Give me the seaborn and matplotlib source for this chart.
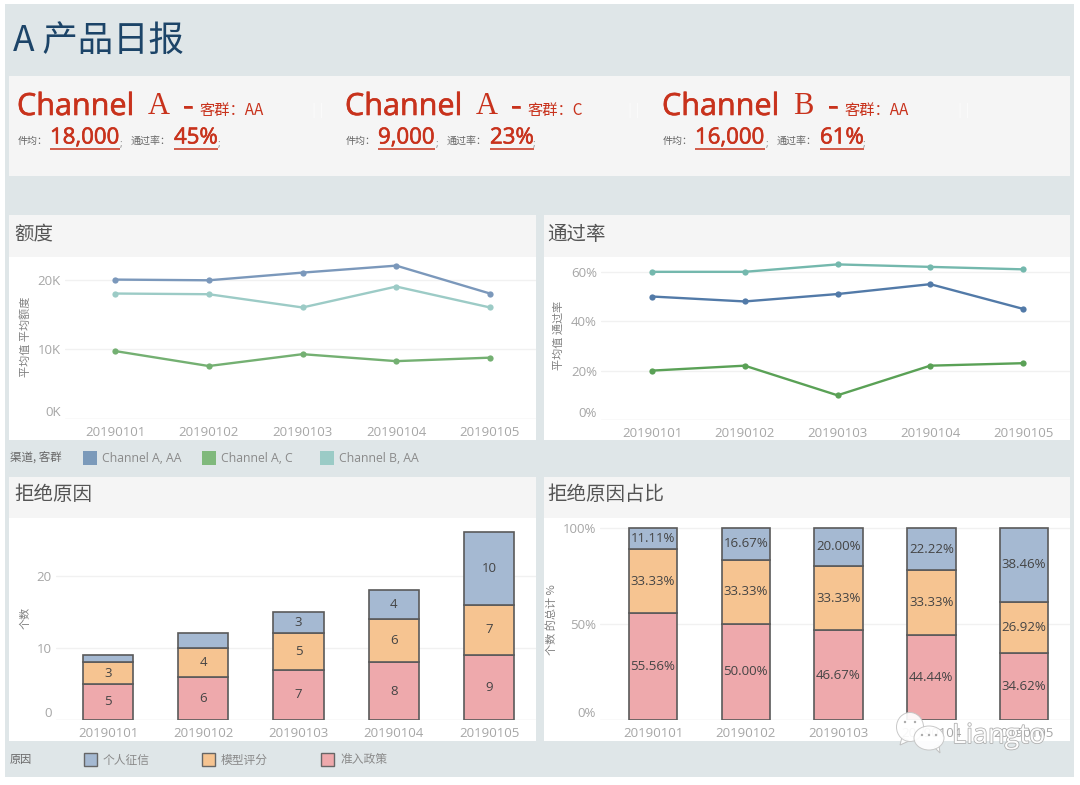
"""A product daily report dashboard."""

import matplotlib

matplotlib.use("Agg")
import matplotlib.patheffects as pe
import matplotlib.pyplot as plt
import numpy as np
import pandas as pd
import seaborn as sns
from matplotlib.patches import Ellipse, Polygon, Rectangle
from matplotlib.transforms import ScaledTranslation

# data
days = ["20190101", "20190102", "20190103", "20190104", "20190105"]
series_names = ["Channel A, AA", "Channel A, C", "Channel B, AA"]

amount_a_aa = [20000, 19900, 21000, 22000, 18000]
amount_a_c = [9750, 7600, 9300, 8300, 8800]
amount_b_aa = [18000, 17900, 16000, 19000, 16000]

rate_a_aa = [50, 48, 51, 55, 45]
rate_a_c = [20, 22, 10, 22, 23]
rate_b_aa = [60, 60, 63, 62, 61]

reason_names = ["准入政策", "模型评分", "个人征信"]
count_policy = [5, 6, 7, 8, 9]
count_model = [3, 4, 5, 6, 7]
count_credit = [1, 2, 3, 4, 10]

share_policy = [55.56, 50.00, 46.67, 44.44, 34.62]
share_model = [33.33, 33.33, 33.33, 33.33, 26.92]
share_credit = [11.11, 16.67, 20.00, 22.22, 38.46]

card_channels = ["Channel", "Channel", "Channel"]
card_letters = ["A", "A", "B"]
card_groups = ["AA", "C", "AA"]
card_amounts = ["18,000", "9,000", "16,000"]
card_rates = ["45%", "23%", "61%"]

# colours
PAGE = "#dfe6e8"
CARD = "#f5f5f5"
RED = "#c8321c"
LINE_LEFT = ["#7b98bb", "#74b072", "#9ccbc6"]
LINE_RIGHT = ["#527aa8", "#5aa156", "#74b8ad"]
LEGEND_LINE = ["#7b9aba", "#80b97c", "#9bcbc6"]
BAR_COLORS = ["#eea9ac", "#f6c491", "#a5b9d2"]
BAR_EDGE = "#5a5a5a"
TICK = "#a6a6a6"
SANS = ["Open Sans", "Noto Sans CJK SC", "DejaVu Sans"]
CJK = ["Noto Sans CJK SC", "DejaVu Sans"]

W, H = 1080, 785

sns.set_theme(style="white")
plt.rcParams["font.family"] = SANS
plt.rcParams["axes.unicode_minus"] = False

fig = plt.figure(figsize=(W / 100, H / 100), dpi=100, facecolor="white")

# page-sized axes in pixel coordinates for cards, headings and legends
bg = fig.add_axes([0, 0, 1, 1], zorder=0)
bg.set_xlim(0, W)
bg.set_ylim(H, 0)
bg.axis("off")

thicker = [pe.withStroke(linewidth=0.45, foreground=RED)]


def box(x0, y0, x1, y1, color, **kw):
    bg.add_patch(Rectangle((x0, y0), x1 - x0, y1 - y0, facecolor=color, linewidth=0, **kw))


def label(x, y, s, size, color="#555555", family=CJK, **kw):
    kw.setdefault("va", "center")
    return bg.text(x, y, s, fontsize=size, color=color, family=family, **kw)


def underlined(x, y, s, size):
    t = label(x, y, s, size, color=RED, family=SANS, path_effects=thicker)
    ext = t.get_window_extent(fig.canvas.get_renderer())
    bg.plot([ext.x0, ext.x1], [149, 149], color=RED, lw=1.1, solid_capstyle="butt")


def panel_axes(x0, y0, x1, y1):
    return fig.add_axes([x0 / W, 1 - y1 / H, (x1 - x0) / W, (y1 - y0) / H], zorder=2, facecolor="none")


def style_axes(ax, first_x, step, ylabel, ylabel_x, ylabel_y):
    x0, x1 = ax.get_position().x0 * W, ax.get_position().x1 * W
    ax.set_xlim((x0 - first_x) / step, (x1 - first_x) / step)
    sns.despine(ax=ax, left=True, bottom=True, top=True, right=True)
    ax.grid(axis="y", color="#f1f1f1", lw=1)
    ax.set_axisbelow(True)
    ax.axhline(0, color="#ececec", lw=1, zorder=0)
    ax.set_xlabel("")
    ax.set_ylabel("")
    ax.tick_params(axis="both", length=0, labelcolor=TICK, labelsize=9.5)
    ax.tick_params(axis="x", pad=5)
    ax.tick_params(axis="y", pad=3)
    # the lowest value label sits above its gridline
    low = ax.get_yticklabels()[0]
    low.set_transform(low.get_transform() + ScaledTranslation(0, 8 / 100, fig.dpi_scale_trans))
    label(ylabel_x, ylabel_y, ylabel, 8, color="#808080", rotation=90, ha="center")


# page and cards
box(5, 4, 1074, 777, PAGE)
box(9, 76, 1070, 176, CARD)
for x0, x1, y0, y1, y2 in [
    (9, 536, 215, 257, 440),
    (544, 1070, 215, 257, 440),
    (9, 536, 477, 518, 741),
    (544, 1070, 477, 518, 741),
]:
    box(x0, y0, x1, y1, CARD)
    box(x0, y1, x1, y2, "white")

label(13, 41, "A 产品日报", 25.5, color="#1c4468", family=CJK)

# KPI cards
card_x = [18, 346, 663]
for i, x in enumerate(card_x):
    label(x - 1, 107, card_channels[i], 22, color=RED, family=SANS, path_effects=thicker)
    label(x + 130, 107, card_letters[i], 22, color=RED, family=["Liberation Serif"])
    label(x + 165, 107, "-", 22, color=RED, family=SANS, path_effects=thicker)
    label(x + 182, 110, f"客群：{card_groups[i]}", 11, color=RED)
    label(x, 141, "件均：", 7.2, color="#666666")
    underlined(x + 32, 138, card_amounts[i], 16)

for x in [121, 437, 767]:
    label(x - 1, 144, ";", 7, color="#888888", family=SANS)
for x in [131, 447, 777]:
    label(x, 141, "通过率：", 7.2, color="#666666")
for x2, s in zip([174, 490, 820], card_rates):
    underlined(x2, 138, s, 16)
for x in [218, 533, 863]:
    label(x, 144, ";", 7, color="#888888", family=SANS)
for x in [318, 634, 964]:
    label(x, 110, "||", 11, color="#fbfbfb", family=SANS, ha="center")

# panel headings
label(14, 234, "额度", 14, color="#555555")
label(547, 234, "通过率", 14, color="#555555")
label(14, 495, "拒绝原因", 14, color="#555555")
label(547, 495, "拒绝原因占比", 14, color="#555555")

# line charts
amount_df = pd.DataFrame(
    {
        "day": days * 3,
        "series": np.repeat(series_names, len(days)),
        "value": amount_a_aa + amount_a_c + amount_b_aa,
    }
)
rate_df = pd.DataFrame(
    {
        "day": days * 3,
        "series": np.repeat(series_names, len(days)),
        "value": rate_a_aa + rate_a_c + rate_b_aa,
    }
)

ax1 = panel_axes(65, 257, 536, 419)
sns.lineplot(
    data=amount_df, x="day", y="value", hue="series", palette=LINE_LEFT, marker="o",
    markersize=4.5, markeredgewidth=0, linewidth=1.7, legend=False, ax=ax1,
)
ax1.set_ylim(0, 23240)
ax1.set_yticks([0, 10000, 20000], ["0K", "10K", "20K"])
style_axes(ax1, 115, 93.75, "平均值 平均额度", 26, 337)

ax2 = panel_axes(601, 257, 1070, 420)
sns.lineplot(
    data=rate_df, x="day", y="value", hue="series", palette=LINE_RIGHT, marker="o",
    markersize=4.5, markeredgewidth=0, linewidth=1.7, legend=False, ax=ax2,
)
ax2.set_ylim(0, 66)
ax2.set_yticks([0, 20, 40, 60], ["0%", "20%", "40%", "60%"])
style_axes(ax2, 652, 92.75, "平均值 通过率", 559, 335)


# stacked bars
def stacked(ax, layers, width, texts):
    bottom = np.zeros(len(days))
    for values, color, words in zip(layers, BAR_COLORS, texts):
        sns.barplot(
            x=days, y=values, bottom=bottom, color=color, saturation=1, width=width,
            edgecolor=BAR_EDGE, linewidth=1.2, ax=ax,
        )
        ax.bar_label(ax.containers[-1], labels=words, label_type="center", fontsize=9.5, color="#444444")
        bottom = bottom + np.array(values)


ax3 = panel_axes(56, 518, 536, 720)
count_layers = [count_policy, count_model, count_credit]
stacked(
    ax3, count_layers, 50 / 95,
    [[str(v) if v >= 3 else "" for v in layer] for layer in count_layers],
)
ax3.set_ylim(0, 28)
ax3.set_yticks([0, 10, 20], ["0", "10", "20"])
style_axes(ax3, 108, 95.25, "个数", 25, 618)

ax4 = panel_axes(600, 518, 1070, 720)
share_layers = [share_policy, share_model, share_credit]
stacked(
    ax4, share_layers, 48.5 / 92.75,
    [[f"{v:.2f}%" for v in layer] for layer in share_layers],
)
ax4.set_ylim(0, 105)
ax4.set_yticks([0, 50, 100], ["0%", "50%", "100%"])
style_axes(ax4, 653, 92.75, "个数 的总计 %", 552, 620)

# legends
label(10, 458, "渠道, 客群", 8.3, color="#666666")
for x, name, color in zip([83, 202, 320], series_names, LEGEND_LINE):
    box(x, 451, x + 14, 465, color)
    label(x + 19, 458, name, 8.8, color="#8a8a8a", family=SANS)

label(10, 760, "原因", 8, color="#666666")
for x, name, color in zip([84, 202, 321], reason_names[::-1], BAR_COLORS[::-1]):
    bg.add_patch(Rectangle((x, 753), 13, 13, facecolor=color, edgecolor="#666666", lw=1))
    label(x + 19, 760, name, 8.5, color="#8a8a8a")

# watermark over everything
fg = fig.add_axes([0, 0, 1, 1], zorder=5, facecolor="none")
fg.set_xlim(0, W)
fg.set_ylim(H, 0)
fg.axis("off")
for cx, cy, w, h, tail in [
    (910, 727, 27, 29, [(902, 737), (900, 745), (909, 741)]),
    (929, 738, 30, 24, [(934, 747), (940, 753), (939, 745)]),
]:
    fg.add_patch(Polygon(tail, facecolor="white", edgecolor="#bbbbbb", lw=0.7, alpha=0.9))
    fg.add_patch(Ellipse((cx, cy), w, h, facecolor="white", edgecolor="#c4c4c4", lw=0.7, alpha=0.92))
for dx, dy in [(905, 722), (915, 722), (922, 735), (929, 735), (936, 735)]:
    fg.add_patch(Ellipse((dx, dy), 2.4, 2.4, facecolor="#aaaaaa", linewidth=0))
mark = fg.text(952, 736, "Liangto", fontsize=19.5, color="white", family="Open Sans", va="center", alpha=0.95)
mark.set_path_effects([pe.withStroke(linewidth=1.1, foreground="#a8a8a8")])

fig.savefig("out.png", dpi=100, facecolor="white")
